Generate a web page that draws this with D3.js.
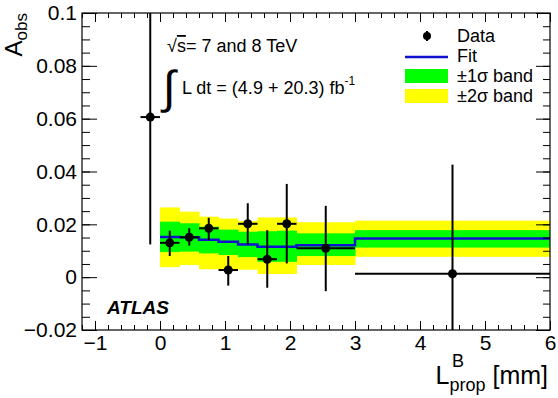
<!DOCTYPE html>
<html>
<head>
<meta charset="utf-8">
<script src="https://cdn.jsdelivr.net/npm/d3@7"></script>
<style>
  body { margin: 0; background: #fff; }
  svg { display: block; font-family: "Liberation Sans", Arial, sans-serif; }
</style>
</head>
<body>
<div id="chart"></div>
<script>
// Fit bins (mm) and fitted asymmetry with its 1 and 2 sigma bands
const binEdges = [0, 0.3, 0.6, 0.9, 1.2, 1.5, 1.8, 2.1, 3.0, 6.0];
const fitValues = [0.0152, 0.0151, 0.0142, 0.0134, 0.0124, 0.0115, 0.0115, 0.0121, 0.0146];
const band1Hi = [0.0210, 0.0204, 0.0191, 0.0180, 0.0172, 0.0174, 0.0176, 0.0166, 0.0178];
const band1Lo = [0.0095, 0.0097, 0.0090, 0.0084, 0.0076, 0.0058, 0.0058, 0.0080, 0.0112];
const band2Hi = [0.0264, 0.0248, 0.0229, 0.0222, 0.0212, 0.0226, 0.0226, 0.0208, 0.0214];
const band2Lo = [0.0038, 0.0046, 0.0030, 0.0030, 0.0028, 0.0012, 0.0012, 0.0046, 0.0077];

// Data points with x ranges and asymmetric y errors
const dataX = [-0.15, 0.15, 0.45, 0.75, 1.05, 1.35, 1.65, 1.95, 2.55, 4.5];
const dataXLo = [-0.3, 0, 0.3, 0.6, 0.9, 1.2, 1.5, 1.8, 2.1, 3.0];
const dataXHi = [0, 0.3, 0.6, 0.9, 1.2, 1.5, 1.8, 2.1, 3.0, 6.0];
const dataY = [0.0606, 0.0130, 0.0151, 0.0185, 0.0027, 0.0202, 0.0068, 0.0202, 0.0109, 0.0013];
const dataYLo = [0.0124, 0.0080, 0.0119, 0.0140, -0.0032, 0.0125, -0.0040, 0.0052, -0.0053, -0.0400];
const dataYHi = [0.1090, 0.0176, 0.0185, 0.0225, 0.0080, 0.0280, 0.0178, 0.0353, 0.0270, 0.0426];

const xTicks = [-1, 0, 1, 2, 3, 4, 5, 6];
const yTicks = [-0.02, 0, 0.02, 0.04, 0.06, 0.08, 0.1];

const width = 558, height = 398;
const margin = { top: 13, right: 8, bottom: 68, left: 82 };
const innerW = width - margin.left - margin.right;
const innerH = height - margin.top - margin.bottom;

const colors = { green: '#00ff00', yellow: '#ffff00', blue: '#1010d0', ink: '#000' };

const svg = d3.select('#chart').append('svg')
  .attr('width', width)
  .attr('height', height);

const x = d3.scaleLinear().domain([-1.2, 6]).range([margin.left, margin.left + innerW]);
const y = d3.scaleLinear().domain([-0.02, 0.1]).range([margin.top + innerH, margin.top]);

svg.append('defs').append('clipPath').attr('id', 'frame')
  .append('rect')
  .attr('x', margin.left).attr('y', margin.top)
  .attr('width', innerW).attr('height', innerH);

const plot = svg.append('g').attr('clip-path', 'url(#frame)');

const bins = fitValues.map((v, i) => ({
  lo: binEdges[i], hi: binEdges[i + 1], fit: v,
  s1Lo: band1Lo[i], s1Hi: band1Hi[i], s2Lo: band2Lo[i], s2Hi: band2Hi[i]
}));

// 2 sigma band, then 1 sigma on top
plot.selectAll('.band2').data(bins).join('rect')
  .attr('class', 'band2')
  .attr('x', d => x(d.lo)).attr('width', d => x(d.hi) - x(d.lo) + 0.5)
  .attr('y', d => y(d.s2Hi)).attr('height', d => y(d.s2Lo) - y(d.s2Hi))
  .attr('fill', colors.yellow);

plot.selectAll('.band1').data(bins).join('rect')
  .attr('class', 'band1')
  .attr('x', d => x(d.lo)).attr('width', d => x(d.hi) - x(d.lo) + 0.5)
  .attr('y', d => y(d.s1Hi)).attr('height', d => y(d.s1Lo) - y(d.s1Hi))
  .attr('fill', colors.green);

// fit step line
const stepPts = bins.map(d => [d.lo, d.fit]);
stepPts.push([binEdges[binEdges.length - 1], fitValues[fitValues.length - 1]]);
plot.append('path')
  .datum(stepPts)
  .attr('fill', 'none')
  .attr('stroke', colors.blue)
  .attr('stroke-width', 2.5)
  .attr('d', d3.line().x(d => x(d[0])).y(d => y(d[1])).curve(d3.curveStepAfter));

// data points
const points = dataX.map((v, i) => ({
  x: v, xlo: dataXLo[i], xhi: dataXHi[i], y: dataY[i], ylo: dataYLo[i], yhi: dataYHi[i]
}));

const pts = plot.append('g').attr('stroke', colors.ink).attr('stroke-width', 2);
pts.selectAll('.xerr').data(points).join('line')
  .attr('x1', d => x(d.xlo)).attr('x2', d => x(d.xhi))
  .attr('y1', d => y(d.y)).attr('y2', d => y(d.y));
pts.selectAll('.yerr').data(points).join('line')
  .attr('x1', d => x(d.x)).attr('x2', d => x(d.x))
  .attr('y1', d => y(d.ylo)).attr('y2', d => y(d.yhi));
plot.selectAll('.pt').data(points).join('circle')
  .attr('cx', d => x(d.x)).attr('cy', d => y(d.y))
  .attr('r', 4.5).attr('fill', colors.ink);

// axes: ticks inside on all four sides, like ROOT
const axisStyle = g => {
  g.select('.domain').remove();
  g.selectAll('.tick line').attr('stroke', colors.ink);
};

const xMinor = d3.range(-1.2, 6.001, 0.2).map(v => +v.toFixed(2));
const yMinor = d3.range(-0.02, 0.1001, 0.005).map(v => +v.toFixed(3));

const fmtX = d => (d < 0 ? '\u2212' : '') + Math.abs(d);
const fmtY = d => d === 0 ? '0' : (d < 0 ? '\u2212' : '') + d3.format('.2~f')(Math.abs(d));

// bottom
svg.append('g').attr('transform', `translate(0,${margin.top + innerH})`)
  .call(d3.axisTop(x).tickValues(xMinor).tickSize(5).tickFormat(''))
  .call(axisStyle);
svg.append('g').attr('transform', `translate(0,${margin.top + innerH})`)
  .call(d3.axisTop(x).tickValues(xTicks).tickSize(9).tickFormat(''))
  .call(axisStyle);
svg.append('g').attr('transform', `translate(0,${margin.top + innerH})`)
  .call(d3.axisBottom(x).tickValues(xTicks).tickSize(0).tickPadding(5).tickFormat(fmtX))
  .call(axisStyle)
  .selectAll('text').attr('font-size', 21).attr('fill', colors.ink)
  .attr('font-family', '"Liberation Sans", Arial, sans-serif');
// top
svg.append('g').attr('transform', `translate(0,${margin.top})`)
  .call(d3.axisBottom(x).tickValues(xMinor).tickSize(5).tickFormat(''))
  .call(axisStyle);
svg.append('g').attr('transform', `translate(0,${margin.top})`)
  .call(d3.axisBottom(x).tickValues(xTicks).tickSize(9).tickFormat(''))
  .call(axisStyle);
// left
svg.append('g').attr('transform', `translate(${margin.left},0)`)
  .call(d3.axisRight(y).tickValues(yMinor).tickSize(8).tickFormat(''))
  .call(axisStyle);
svg.append('g').attr('transform', `translate(${margin.left},0)`)
  .call(d3.axisRight(y).tickValues(yTicks).tickSize(15).tickFormat(''))
  .call(axisStyle);
svg.append('g').attr('transform', `translate(${margin.left},0)`)
  .call(d3.axisLeft(y).tickValues(yTicks).tickSize(0).tickPadding(5).tickFormat(fmtY))
  .call(axisStyle)
  .selectAll('text').attr('font-size', 21).attr('fill', colors.ink)
  .attr('font-family', '"Liberation Sans", Arial, sans-serif');
// right
svg.append('g').attr('transform', `translate(${margin.left + innerW},0)`)
  .call(d3.axisLeft(y).tickValues(yMinor).tickSize(7).tickFormat(''))
  .call(axisStyle);
svg.append('g').attr('transform', `translate(${margin.left + innerW},0)`)
  .call(d3.axisLeft(y).tickValues(yTicks).tickSize(14).tickFormat(''))
  .call(axisStyle);

// frame
svg.append('rect')
  .attr('x', margin.left).attr('y', margin.top)
  .attr('width', innerW).attr('height', innerH)
  .attr('fill', 'none').attr('stroke', colors.ink).attr('stroke-width', 1.2);

// axis titles
const yTitle = svg.append('text')
  .attr('transform', `translate(22,${margin.top}) rotate(-90)`)
  .attr('text-anchor', 'end')
  .attr('font-size', 24);
yTitle.append('tspan').text('A');
yTitle.append('tspan').attr('font-size', 17).attr('dy', 5).text('obs');

const xTitle = svg.append('text')
  .attr('x', 548).attr('y', 384)
  .attr('text-anchor', 'end')
  .attr('font-size', 25);
xTitle.append('tspan').text('L');
xTitle.append('tspan').attr('font-size', 18).attr('dy', 7).text('prop');
xTitle.append('tspan').attr('font-size', 25).attr('dy', -7).text(' [mm]');
svg.append('text')
  .attr('x', 452).attr('y', 367)
  .attr('font-size', 18)
  .text('B');

// annotations
const sqrtText = svg.append('text').attr('x', 167).attr('y', 52).attr('font-size', 18);
sqrtText.append('tspan').text('\u221A');
sqrtText.append('tspan').style('text-decoration', 'overline').text('s');
sqrtText.append('tspan').text('= 7 and 8 TeV');

svg.append('text')
  .attr('x', 163).attr('y', 103)
  .attr('font-size', 46)
  .attr('font-family', '"DejaVu Sans", sans-serif')
  .attr('font-weight', 200)
  .text('\u222B');
const lumi = svg.append('text').attr('x', 182).attr('y', 94).attr('font-size', 18);
lumi.append('tspan').text('L dt = (4.9 + 20.3) fb');
lumi.append('tspan').attr('font-size', 12).attr('dy', -9).text('-1');

svg.append('text')
  .attr('x', 107).attr('y', 314)
  .attr('font-size', 19)
  .attr('font-weight', 'bold')
  .attr('font-style', 'italic')
  .text('ATLAS');

// legend
const legend = svg.append('g');
const legendItems = [
  { label: 'Data', kind: 'marker', y: 42 },
  { label: 'Fit', kind: 'line', y: 62 },
  { label: '\u00B11\u03C3 band', kind: 'box', color: colors.green, y: 82 },
  { label: '\u00B12\u03C3 band', kind: 'box', color: colors.yellow, y: 102 }
];
legendItems.forEach(it => {
  const cy = it.y - 6;
  if (it.kind === 'marker') {
    legend.append('line').attr('x1', 427).attr('x2', 427).attr('y1', cy - 5).attr('y2', cy + 5)
      .attr('stroke', colors.ink).attr('stroke-width', 2);
    legend.append('circle').attr('cx', 427).attr('cy', cy).attr('r', 4).attr('fill', colors.ink);
  } else if (it.kind === 'line') {
    legend.append('line').attr('x1', 405).attr('x2', 448).attr('y1', cy + 1).attr('y2', cy + 1)
      .attr('stroke', colors.blue).attr('stroke-width', 2.5);
  } else {
    legend.append('rect').attr('x', 405).attr('y', cy - 7).attr('width', 43).attr('height', 14)
      .attr('fill', it.color);
  }
  legend.append('text').attr('x', 457).attr('y', it.y).attr('font-size', 18).text(it.label);
});
</script>
</body>
</html>
